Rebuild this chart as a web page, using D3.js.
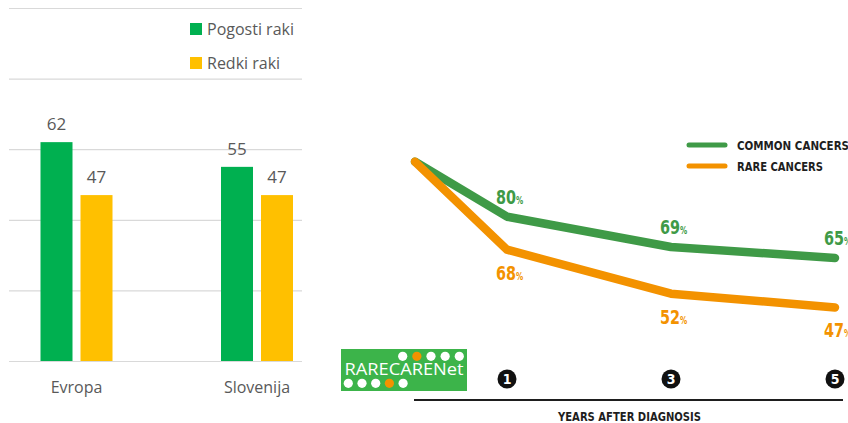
<!DOCTYPE html>
<meta charset="utf-8">
<script src="https://cdn.jsdelivr.net/npm/d3@7"></script>
<style>
    body { margin: 0; background: #fff; }
    svg { display: block; }
    .bar-txt { font-family: "Open Sans", "Noto Sans", sans-serif; fill: #595959; }
    .cond { font-family: "DejaVu Sans Condensed", "Liberation Sans", sans-serif; font-weight: bold; }
</style>
<svg width="848" height="423"></svg>
<script>

    // left panel: bar chart
    var regions = ["Evropa", "Slovenija"];
    var barSeries = ["Pogosti raki", "Redki raki"];
    var commonVals = [62, 55];
    var rareVals = [47, 47];
    var barTicks = [0, 20, 40, 60, 80, 100];

    // right panel: survival lines
    var years = [0, 1, 3, 5];
    var commonSurv = [100, 80, 69, 65];
    var rareSurv = [100, 68, 52, 47];
    var yearTicks = ["1", "3", "5"];
    var lineSeries = ["COMMON CANCERS", "RARE CANCERS"];

    var svg = d3.select("svg");

    var barColor = ["#00b050", "#ffc000"];

    var yBar = d3.scaleLinear().domain([0, 100]).range([361, 8]);
    var xBar = d3.scalePoint().domain(regions).range([76.5, 257]);
    var xSub = d3.scaleBand().domain(barSeries).range([-36, 36]).paddingInner(0.2);

    // gridlines
    svg.append("g")
        .selectAll("line")
        .data(barTicks)
        .enter().append("line")
        .attr("x1", 9).attr("x2", 302)
        .attr("y1", function (d) { return yBar(d) + 0.5; })
        .attr("y2", function (d) { return yBar(d) + 0.5; })
        .attr("stroke", "#d9d9d9")
        .attr("stroke-width", 1.2);

    var barRows = [];
    regions.forEach(function (r, i) {
        barRows.push({region: r, series: barSeries[0], value: commonVals[i], c: barColor[0]});
        barRows.push({region: r, series: barSeries[1], value: rareVals[i], c: barColor[1]});
    });

    svg.append("g")
        .selectAll("rect")
        .data(barRows)
        .enter().append("rect")
        .attr("x", function (d) { return xBar(d.region) + xSub(d.series); })
        .attr("width", xSub.bandwidth())
        .attr("y", function (d) { return yBar(d.value); })
        .attr("height", function (d) { return yBar(0) - yBar(d.value); })
        .attr("fill", function (d) { return d.c; });

    svg.append("g")
        .selectAll("text")
        .data(barRows)
        .enter().append("text")
        .attr("class", "bar-txt")
        .attr("x", function (d) { return xBar(d.region) + xSub(d.series) + xSub.bandwidth() / 2; })
        .attr("y", function (d) { return yBar(d.value) - 12; })
        .attr("text-anchor", "middle")
        .attr("font-size", 17)
        .text(function (d) { return d.value; });

    svg.append("g")
        .selectAll("text")
        .data(regions)
        .enter().append("text")
        .attr("class", "bar-txt")
        .attr("x", function (d) { return xBar(d); })
        .attr("y", 393)
        .attr("text-anchor", "middle")
        .attr("font-size", 16)
        .text(function (d) { return d; });

    var barLegend = svg.append("g")
        .selectAll("g")
        .data(barSeries)
        .enter().append("g")
        .attr("transform", function (d, i) { return "translate(190," + (29 + i * 34) + ")"; });
    barLegend.append("rect")
        .attr("x", 0).attr("y", -6).attr("width", 12).attr("height", 12)
        .attr("fill", function (d, i) { return barColor[i]; });
    barLegend.append("text")
        .attr("class", "bar-txt")
        .attr("x", 17).attr("y", 6)
        .attr("font-size", 16)
        .text(function (d) { return d; });

    // right panel
    var lineColor = ["#3f9a47", "#f39200"];
    var xLine = d3.scaleLinear().domain([0, 1, 5]).range([415, 507, 835]);
    var yLine = d3.scaleLinear().domain([0, 100]).range([436.7, 161.7]);

    var line = d3.line()
        .x(function (d) { return xLine(d.year); })
        .y(function (d) { return yLine(d.v); });

    var lineData = [commonSurv, rareSurv].map(function (arr, k) {
        return {k: k, pts: years.map(function (y, i) { return {year: y, v: arr[i]}; })};
    });

    svg.append("g")
        .selectAll("path")
        .data(lineData)
        .enter().append("path")
        .attr("d", function (d) { return line(d.pts); })
        .attr("fill", "none")
        .attr("stroke", function (d) { return lineColor[d.k]; })
        .attr("stroke-width", 8.5)
        .attr("stroke-linecap", "round")
        .attr("stroke-linejoin", "round");

    // value labels, squeezed horizontally like a condensed face
    lineData.forEach(function (s) {
        var lab = svg.append("g")
            .selectAll("text")
            .data(s.pts.slice(1))
            .enter().append("text")
            .attr("class", "cond")
            .attr("transform", function (d) {
                return "translate(" + (xLine(d.year) - 11) + "," + (yLine(d.v) + (s.k === 0 ? -13 : 30)) + ") scale(0.8,1)";
            })
            .attr("fill", lineColor[s.k])
            .attr("font-size", 20);
        lab.append("tspan").text(function (d) { return d.v; });
        lab.append("tspan").attr("font-size", 10).text("%");
    });

    // legend of the line chart
    var lineLegend = svg.append("g")
        .selectAll("g")
        .data(lineSeries)
        .enter().append("g")
        .attr("transform", function (d, i) { return "translate(689," + (145 + i * 21) + ")"; });
    lineLegend.append("line")
        .attr("x1", 0).attr("x2", 36)
        .attr("stroke", function (d, i) { return lineColor[i]; })
        .attr("stroke-width", 5)
        .attr("stroke-linecap", "round");
    lineLegend.append("text")
        .attr("class", "cond")
        .attr("x", 48).attr("y", 5)
        .attr("font-size", 13)
        .attr("fill", "#1e1e1e")
        .attr("textLength", function (d, i) { return i === 0 ? 112 : 86; })
        .attr("lengthAdjust", "spacingAndGlyphs")
        .text(function (d) { return d; });

    // x axis of the line chart
    svg.append("line")
        .attr("x1", 414).attr("x2", 843)
        .attr("y1", 400).attr("y2", 400)
        .attr("stroke", "#1e1e1e").attr("stroke-width", 2);

    var ticks = svg.append("g")
        .selectAll("g")
        .data(yearTicks)
        .enter().append("g")
        .attr("transform", function (d) { return "translate(" + xLine(+d) + ",379)"; });
    ticks.append("circle").attr("r", 9.5).attr("fill", "#111");
    ticks.append("text")
        .attr("class", "cond")
        .attr("text-anchor", "middle")
        .attr("y", 5)
        .attr("font-size", 14)
        .attr("fill", "#fff")
        .text(function (d) { return d; });

    svg.append("text")
        .attr("class", "cond")
        .attr("x", 558).attr("y", 421)
        .attr("font-size", 13)
        .attr("fill", "#1e1e1e")
        .attr("textLength", 143)
        .attr("lengthAdjust", "spacingAndGlyphs")
        .text("YEARS AFTER DIAGNOSIS");

    // RARECARENet logo
    var logo = svg.append("g").attr("transform", "translate(341,349)");
    logo.append("rect").attr("width", 126).attr("height", 42).attr("fill", "#3cb44a");
    var topDots = [0, 1, 0, 0, 0];
    var botDots = [0, 0, 0, 1, 0];
    logo.selectAll(".td").data(topDots).enter().append("circle")
        .attr("cx", function (d, i) { return 61.7 + i * 14.15; })
        .attr("cy", 7.3).attr("r", 4.6)
        .attr("fill", function (d) { return d ? "#f39200" : "#fff"; });
    logo.selectAll(".bd").data(botDots).enter().append("circle")
        .attr("cx", function (d, i) { return 7.3 + i * 13.7; })
        .attr("cy", 34.3).attr("r", 4.6)
        .attr("fill", function (d) { return d ? "#f39200" : "#fff"; });
    logo.append("text")
        .attr("x", 3.5).attr("y", 26)
        .attr("font-family", "'Open Sans', 'DejaVu Sans', sans-serif")
        .attr("font-size", 16.5)
        .attr("fill", "#fff")
        .attr("textLength", 119)
        .attr("lengthAdjust", "spacingAndGlyphs")
        .text("RARECARENet");

</script>
